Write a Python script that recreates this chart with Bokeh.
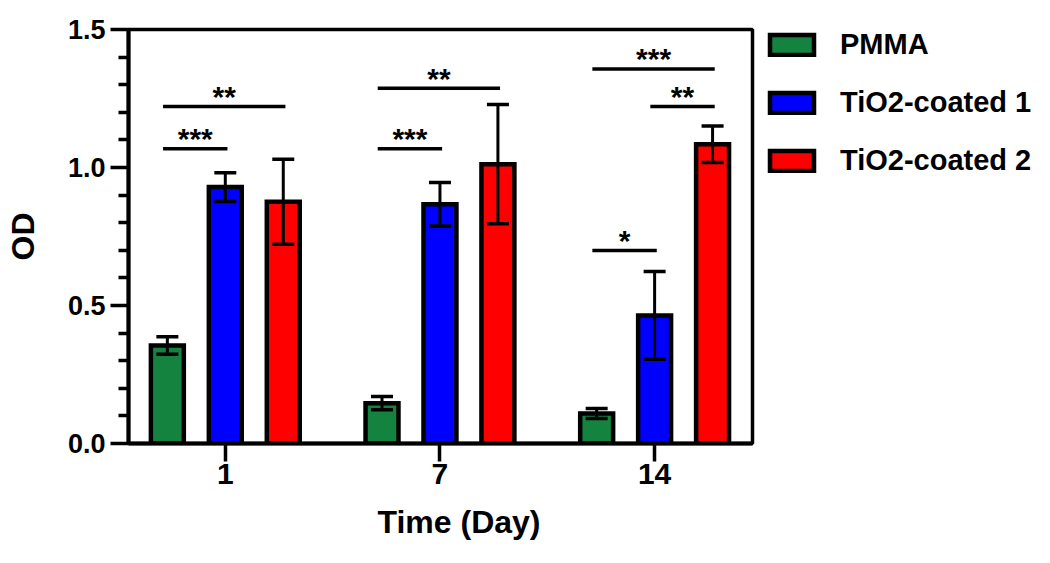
import numpy as np
from bokeh.plotting import figure
from bokeh.layouts import row
from bokeh.models import (ColumnDataSource, Range1d, FixedTicker, Legend, LegendItem,
                          Whisker, TeeHead, NumeralTickFormatter, Title)
from bokeh.core.properties import value
from bokeh.embed import file_html
from bokeh.resources import INLINE

# ---------------- data ----------------
days = ["1", "7", "14"]
series = ["PMMA", "TiO2-coated 1", "TiO2-coated 2"]
colors = ["#148340", "#0000FF", "#FF0000"]

pmma = [0.355, 0.146, 0.109]
pmma_err = [0.032, 0.024, 0.018]
tio2_1 = [0.929, 0.867, 0.464]
tio2_1_err = [0.052, 0.079, 0.159]
tio2_2 = [0.876, 1.012, 1.084]
tio2_2_err = [0.154, 0.216, 0.066]

# significance brackets: day index, from-series index, to-series index, level, label
sig_day = [0, 0, 1, 1, 2, 2, 2]
sig_from = [0, 0, 0, 0, 0, 1, 0]
sig_to = [1, 2, 1, 2, 1, 2, 2]
sig_y = [1.068, 1.221, 1.068, 1.287, 0.699, 1.221, 1.357]
sig_label = ["***", "**", "***", "**", "*", "**", "***"]

y_ticks = [0.0, 0.5, 1.0, 1.5]

# ---------------- layout ----------------
FONT = "Liberation Sans"
H = 563
group_x = np.arange(1, len(days) + 1)
offsets = [-0.27, 0.0, 0.27]
bar_w = 0.1535

p = figure(width=756, height=H,
           x_range=Range1d(0.549, 3.456), y_range=Range1d(0, 1.5),
           output_backend="svg", toolbar_location=None,
           min_border_left=128, min_border_right=4,
           min_border_top=29, min_border_bottom=120)
p.xgrid.visible = False
p.ygrid.visible = False
p.outline_line_color = "black"
p.outline_line_width = 3.5
p.background_fill_color = "white"
p.border_fill_color = "white"

vals = [pmma, tio2_1, tio2_2]
errs = [pmma_err, tio2_1_err, tio2_2_err]
for i in range(3):
    xs = group_x + offsets[i]
    src = ColumnDataSource(dict(x=xs, top=vals[i],
                                upper=np.array(vals[i]) + np.array(errs[i]),
                                lower=np.array(vals[i]) - np.array(errs[i])))
    p.vbar(x="x", top="top", bottom=0, width=bar_w, source=src,
           fill_color=colors[i], line_color="black", line_width=4.5,
           line_join="miter")
    w = Whisker(base="x", upper="upper", lower="lower", source=src,
                line_color="black", line_width=3, level="annotation",
                upper_head=TeeHead(size=22, line_width=3.5, line_color="black"),
                lower_head=TeeHead(size=22, line_width=3.5, line_color="black"))
    p.add_layout(w)

# significance bars
x0 = [group_x[d] + offsets[f] - 0.02 for d, f in zip(sig_day, sig_from)]
x1 = [group_x[d] + offsets[t] + 0.01 for d, t in zip(sig_day, sig_to)]
xt = [(a + b) / 2 for a, b in zip(x0, x1)]
ssrc = ColumnDataSource(dict(x0=x0, x1=x1, xt=xt, y=sig_y, label=sig_label))
p.segment(x0="x0", y0="y", x1="x1", y1="y", source=ssrc,
          line_color="black", line_width=3.5)
p.text(x="xt", y="y", text="label", source=ssrc, text_align="center",
       text_baseline="alphabetic", y_offset=-10, text_color="black",
       text_font=value(FONT), text_font_style="bold", text_font_size="30px")

# axes
for ax in (p.xaxis[0], p.yaxis[0]):
    ax.axis_line_width = 4
    ax.axis_line_color = "black"
    ax.major_tick_line_width = 3.5
    ax.major_tick_line_color = "black"
    ax.major_tick_in = 0
    ax.major_tick_out = 18
    ax.major_label_text_font = FONT
    ax.major_label_text_font_style = "bold"
    ax.major_label_text_color = "black"
    ax.axis_label_text_font = FONT
    ax.axis_label_text_font_style = "bold"
    ax.axis_label_text_color = "black"

minor = [round(v, 1) for v in np.arange(0.1, 1.5, 0.1) if round(v * 10) % 5 != 0]
p.yaxis.ticker = FixedTicker(ticks=y_ticks, minor_ticks=minor)
p.yaxis.formatter = NumeralTickFormatter(format="0.0")
p.yaxis.minor_tick_in = 0
p.yaxis.minor_tick_out = 10
p.yaxis.minor_tick_line_width = 3.5
p.yaxis.minor_tick_line_color = "black"
p.yaxis.major_label_text_font_size = "27px"
p.yaxis.major_label_standoff = 5
p.yaxis.axis_label = "OD"
p.yaxis.axis_label_text_font_size = "32px"
p.yaxis.axis_label_standoff = 24

p.xaxis.ticker = FixedTicker(ticks=list(group_x), minor_ticks=[])
p.xaxis.major_label_overrides = {int(g): d for g, d in zip(group_x, days)}
p.xaxis.major_label_text_font_size = "30px"
p.xaxis.major_label_standoff = 2

xtitle = Title(text="Time (Day)", align="left", offset=249, standoff=30,
               vertical_align="bottom",
               text_font=FONT, text_font_style="bold", text_font_size="32px",
               text_color="black")
p.add_layout(xtitle, "below")

# ---------------- legend panel ----------------
q = figure(width=294, height=H, x_range=Range1d(0, 1), y_range=Range1d(0, 1),
           output_backend="svg", toolbar_location=None, min_border=0,
           x_axis_location=None, y_axis_location=None)
q.xgrid.visible = False
q.ygrid.visible = False
q.outline_line_color = None
q.background_fill_color = "white"
q.border_fill_color = "white"

legend_renderers = []
for c in colors:
    # legend swatches only: the bar itself has no drawable value
    r = q.vbar(x=np.array([0.5]), top=np.array([np.nan]), bottom=np.array([np.nan]),
               width=0.1, fill_color=c, line_color="black",
               line_width=4.5, line_join="miter")
    legend_renderers.append(r)

legend = Legend(items=[LegendItem(label=s, renderers=[r]) for s, r in zip(series, legend_renderers)],
                location=(8, 266), glyph_width=55, glyph_height=25, label_height=25,
                label_standoff=21, spacing=25, padding=0, margin=0,
                border_line_color=None, background_fill_alpha=0,
                label_text_font=FONT, label_text_font_style="bold",
                label_text_font_size="29px", label_text_color="black")
q.add_layout(legend, "center")

layout = row(p, q)
open("out.html", "w").write(file_html(layout, INLINE))
